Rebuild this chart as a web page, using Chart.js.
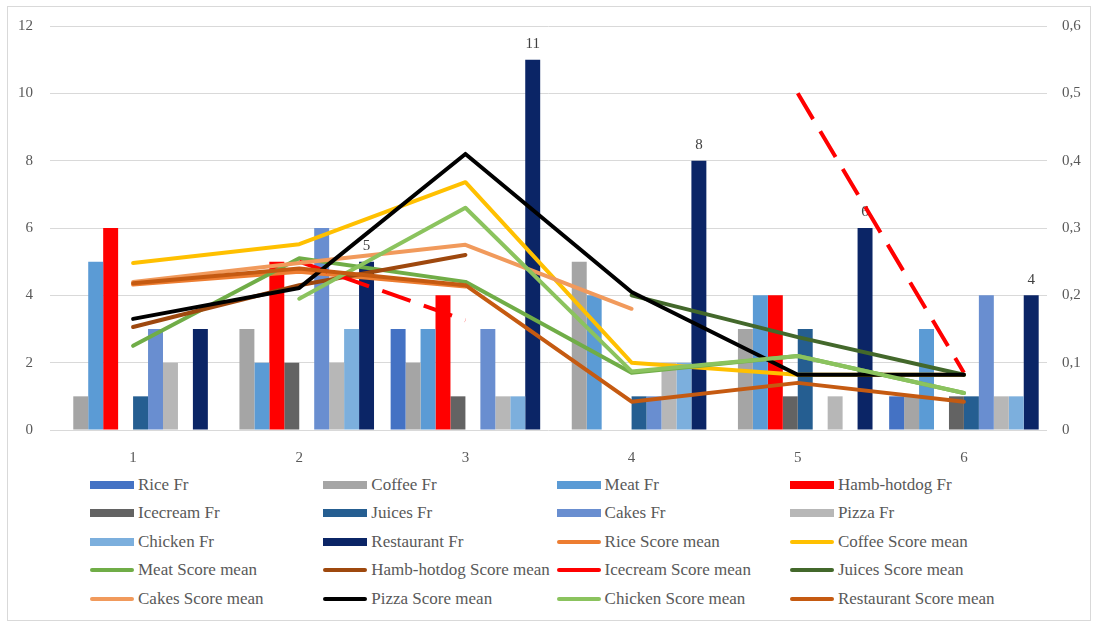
<!DOCTYPE html>
<html><head><meta charset="utf-8">
<script src="https://cdn.jsdelivr.net/npm/chart.js@4.4.1/dist/chart.umd.min.js"></script>
<style>
html,body{margin:0;padding:0;background:#fff;}
#wrap{position:relative;width:1096px;height:622px;overflow:hidden;background:#fff;}
#frame{position:absolute;left:7px;top:6px;width:1084px;height:615px;border:1px solid #d9d9d9;box-sizing:border-box;}
#cv{position:absolute;left:0;top:0;}
.item{position:absolute;display:flex;align-items:center;font-family:'Liberation Serif',serif;font-size:17px;color:#595959;white-space:nowrap;height:20px;}
.sym{width:44px;margin-right:4px;}
</style></head>
<body>
<div id="wrap">
<div id="frame"></div>
<canvas id="cv" width="1096" height="470"></canvas>
<div id="legend"></div>
</div>
<script>
// ---- data ----
const categories = ['1','2','3','4','5','6'];
const leftTicks = ['0','2','4','6','8','10','12'];
const rightTicks = ['0','0,1','0,2','0,3','0,4','0,5','0,6'];

const barNames = ['Rice Fr','Coffee Fr','Meat Fr','Hamb-hotdog Fr','Icecream Fr','Juices Fr','Cakes Fr','Pizza Fr','Chicken Fr','Restaurant Fr'];
const riceFr       = [0,0,3,0,0,1];
const coffeeFr     = [1,3,2,5,3,1];
const meatFr       = [5,2,3,4,4,3];
const hambFr       = [6,5,4,0,4,0];
const icecreamFr   = [0,2,1,0,1,1];
const juicesFr     = [1,0,0,1,3,1];
const cakesFr      = [3,6,3,1,0,4];
const pizzaFr      = [2,2,1,2,1,1];
const chickenFr    = [0,3,1,2,0,1];
const restaurantFr = [3,5,11,8,6,4];

const lineNames = ['Rice Score mean','Coffee Score mean','Meat Score mean','Hamb-hotdog Score mean','Icecream Score mean','Juices Score mean','Cakes Score mean','Pizza Score mean','Chicken Score mean','Restaurant Score mean'];
const riceMean       = [0.216,0.235,0.213,null,null,null];
const coffeeMean     = [0.248,0.276,0.368,0.100,0.082,0.082];
const meatMean       = [0.125,0.255,0.220,0.085,0.110,0.055];
const hambMean       = [0.153,0.215,0.260,null,null,null];
const icecreamMean   = [null,0.250,0.163,null,0.500,0.085];
const juicesMean     = [null,null,null,0.200,0.138,0.082];
const cakesMean      = [0.220,0.248,0.275,0.180,null,null];
const pizzaMean      = [0.165,0.211,0.410,0.205,0.082,0.082];
const chickenMean    = [null,0.195,0.330,0.087,0.110,0.055];
const restaurantMean = [0.218,0.240,0.215,0.042,0.070,0.042];

// ---- styles ----
const barColors = ['#4472C4','#A5A5A5','#5B9BD5','#FF0000','#636363','#255E91','#698ED0','#B7B7B7','#7CAFDD','#0B2566'];
const lineColors = ['#ED7D31','#FFC000','#70AD47','#9E480E','#FF0000','#43682B','#F19A5C','#000000','#8BC35E','#C55A11'];
const barData = [riceFr,coffeeFr,meatFr,hambFr,icecreamFr,juicesFr,cakesFr,pizzaFr,chickenFr,restaurantFr];
const lineData = [riceMean,coffeeMean,meatMean,hambMean,icecreamMean,juicesMean,cakesMean,pizzaMean,chickenMean,restaurantMean];

const datasets = [];
barNames.forEach((n,i)=>datasets.push({
  type:'bar', label:n, data:barData[i], backgroundColor:barColors[i], borderWidth:0,
  yAxisID:'y', order:i, categoryPercentage:0.9, barPercentage:1.0
}));
lineNames.forEach((n,i)=>datasets.push({
  type:'line', label:n, data:lineData[i], borderColor:lineColors[i], backgroundColor:lineColors[i],
  borderWidth:4, pointRadius:0, tension:0, spanGaps:false, yAxisID:'y1', order:-(10+i),
  borderDash: i===4 ? [30,14] : [], borderCapStyle: i===4 ? 'butt' : 'round', borderJoinStyle:'round'
}));

const labelPlugin = {
  id:'restLabels',
  beforeDatasetsDraw(chart){
    const meta = chart.getDatasetMeta(9);
    const ctx = chart.ctx;
    ctx.save();
    ctx.font = '15px "Liberation Serif", serif';
    ctx.fillStyle = '#404040';
    ctx.textAlign = 'center';
    ctx.textBaseline = 'bottom';
    meta.data.forEach((el,j)=>{
      if (j === 0) return; // hidden behind lines in the original
      ctx.fillText(String(restaurantFr[j]), el.x, el.y - 8);
    });
    ctx.restore();
  }
};

const tickFont = {family:'"Liberation Serif", serif', size:15};
new Chart(document.getElementById('cv'), {
  data:{labels:categories, datasets},
  options:{
    responsive:false, animation:false, devicePixelRatio:1,
    layout:{padding:{top:26,left:0,right:0,bottom:0}},
    plugins:{legend:{display:false}, tooltip:{enabled:false}},
    scales:{
      x:{
        grid:{display:false}, border:{display:false},
        ticks:{font:tickFont, color:'#595959', padding:11},
        afterFit(s){ s.height = 40; }
      },
      y:{
        position:'left', min:0, max:12,
        ticks:{stepSize:2, font:tickFont, color:'#595959', padding:17,
          callback:(v,i)=>leftTicks[i]},
        grid:{color:'#D9D9D9', lineWidth:1, drawTicks:false}, border:{display:false},
        afterFit(s){ s.width = 50; }
      },
      y1:{
        position:'right', min:0, max:0.6,
        ticks:{stepSize:0.1, font:tickFont, color:'#595959', padding:15,
          callback:(v,i)=>rightTicks[i]},
        grid:{display:false, drawTicks:false}, border:{display:false},
        afterFit(s){ s.width = 49; }
      }
    }
  },
  plugins:[labelPlugin]
});

// ---- HTML legend (4 columns) ----
const legend = document.getElementById('legend');
const allNames = barNames.concat(lineNames);
allNames.forEach((n,k)=>{
  const col = k % 4, row = Math.floor(k / 4);
  const d = document.createElement('div');
  d.className = 'item';
  d.style.left = (90 + col*233.3) + 'px';
  d.style.top = (485 + row*28.4 - 10) + 'px';
  const s = document.createElement('span');
  s.className = 'sym';
  const isBar = k < 10;
  const color = isBar ? barColors[k] : lineColors[k-10];
  s.style.height = isBar ? '8px' : '4px';
  s.style.background = color;
  if (!isBar) s.style.borderRadius = '2px';
  const t = document.createElement('span');
  t.textContent = n;
  d.appendChild(s); d.appendChild(t);
  legend.appendChild(d);
});
</script>
</body></html>
